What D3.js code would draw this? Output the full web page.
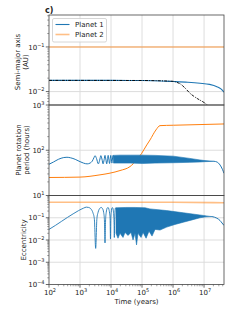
<!DOCTYPE html>
<html><head><meta charset="utf-8">
<script src="https://cdn.jsdelivr.net/npm/d3@7"></script>
<style>body{margin:0;background:#fff}svg{display:block}text{font-family:"DejaVu Sans",sans-serif;fill:#222}</style>
</head><body>
<svg id="c" width="249" height="320"></svg>
<script>
// ---------- data ----------
const xTickExps = [2, 3, 4, 5, 6, 7];
const aTickExps = [-1, -2];
const rotTickExps = [3, 2, 1];
const eccTickExps = [-1, -2, -3, -4];
const seriesNames = ["Planet 1", "Planet 2"];

// semi-major axis (AU)
const aP1Time = [1e2, 1e4, 1e5, 1e6, 3e6, 7.4e6, 1.5e7, 2.6e7, 3.5e7, 4.4e7];
const aP1Val  = [0.0178, 0.0178, 0.0177, 0.0168, 0.0162, 0.0154, 0.0145, 0.0129, 0.0115, 0.0097];
const aP2Time = [1e2, 4.4e7];
const aP2Val  = [0.1, 0.1];
const aFitTime = [1e2, 1e5, 1e6, 1.3e6, 1.7e6, 2.5e6, 3.5e6, 6e6, 1.07e7, 1.4e7];
const aFitVal  = [0.0178, 0.0177, 0.0170, 0.0162, 0.0149, 0.0118, 0.0092, 0.0070, 0.0055, 0.0047];

// rotation period (hours)
const rotP1Time = [100, 140, 200, 300, 380, 500, 700, 1000, 1300, 1700, 2100, 2500, 2800, 3050, 3400, 3900, 4300, 4700, 5100, 5550, 6000, 6400, 6800, 7250, 7700, 8100, 8500, 8950, 9400, 9800, 10200, 10650, 11100, 11600];
const rotP1Val  = [49, 55, 63, 69, 70, 68, 63, 56, 52, 50, 52, 58, 68, 76, 66, 50, 60, 76, 64, 50, 62, 77, 64, 50, 62, 77, 64, 51, 62, 77, 65, 52, 64, 77];
const rotBandHiTime = [11600, 19500, 41000, 105000, 263000, 1.02e6, 3.5e6, 7.4e6, 1.07e7, 1.55e7, 2.1e7];
const rotBandHi     = [77, 78, 78, 78, 77, 74, 66, 61, 59, 58, 57];
const rotBandLoTime = [12000, 19500, 41000, 105000, 263000, 1.02e6, 3.5e6, 7.4e6, 1.07e7, 1.55e7, 2.1e7];
const rotBandLo     = [52, 52, 52, 51, 52, 53, 54, 55, 56, 56.5, 57];
const rotTailTime = [2.1e7, 2.6e7, 3.3e7, 3.9e7, 4.4e7];
const rotTailVal  = [57, 55, 47, 38, 31];
const rotP2Time = [100, 1000, 4400, 9300, 19500, 41000, 67000, 98000, 142000, 181000, 281000, 380000, 1.02e6, 4.4e7];
const rotP2Val  = [25, 25.5, 28.6, 31.2, 35.6, 43.6, 61, 86, 131, 169, 281, 350, 357, 381];

// eccentricity
const eccP1Time = [100, 160, 250, 400, 600, 900, 1300, 1600, 1900, 2300, 2600, 2900, 3200, 3500, 3850, 4300, 4800, 5300, 5800, 6100, 6400, 6700, 7000, 7500, 8000, 8500, 9000, 9350, 9600, 9850, 10200, 10800, 11300, 11800, 12300, 12550, 12800, 13050, 13400, 14000, 14500];
const eccP1Val  = [0.030, 0.045, 0.068, 0.105, 0.15, 0.21, 0.27, 0.30, 0.29, 0.24, 0.17, 0.09, 0.0042, 0.09, 0.18, 0.26, 0.29, 0.26, 0.17, 0.09, 0.0074, 0.09, 0.17, 0.27, 0.29, 0.25, 0.16, 0.09, 0.011, 0.09, 0.18, 0.28, 0.28, 0.22, 0.12, 0.06, 0.013, 0.07, 0.18, 0.28, 0.26];
const eccBandHiTime = [14500, 30000, 60000, 126000, 180000, 627000, 2.15e6, 9.5e6, 1.55e7, 1.81e7];
const eccBandHi     = [0.28, 0.29, 0.29, 0.28, 0.25, 0.21, 0.167, 0.127, 0.115, 0.113];
const eccBandLoTime = [14500, 16800, 19500, 24400, 28300, 35300, 44200, 51300, 59400, 66500, 74300, 92900, 108000, 135000, 168000, 210000, 263000, 381000, 627000, 1.16e6, 2.15e6, 4.1e6, 7.4e6, 1.16e7, 1.81e7];
const eccBandLo     = [0.02, 0.012, 0.02, 0.013, 0.022, 0.016, 0.022, 0.010, 0.02, 0.006, 0.02, 0.013, 0.022, 0.012, 0.025, 0.015, 0.03, 0.028, 0.038, 0.05, 0.063, 0.08, 0.10, 0.11, 0.113];
const eccTailTime = [1.81e7, 2.57e7, 3.28e7, 3.8e7, 4.4e7];
const eccTailVal  = [0.113, 0.096, 0.075, 0.058, 0.045];
const eccP2Time = [100, 1e6, 4.4e7];
const eccP2Val  = [0.5, 0.495, 0.47];

// ---------- drawing ----------
const svg = d3.select("#c");
const L = 49, R = 224;
const panels = [
  {top: 15, bot: 105, dom: [0.005, 0.52], ticks: aTickExps, name: "a"},
  {top: 105, bot: 195.5, dom: [10, 1000], ticks: rotTickExps, name: "rot"},
  {top: 195.5, bot: 284.5, dom: [1e-4, 1], ticks: eccTickExps, name: "ecc"}
];
const x = d3.scaleLog().domain([100, 4.4e7]).range([L, R]);
panels.forEach(p => { p.y = d3.scaleLog().domain(p.dom).range([p.bot, p.top]); });
const BLUE = "#1f77b4", ORANGE = "#ff7f0e", GRID = "#d9d9d9", SPINE = "#444";

const defs = svg.append("defs");
panels.forEach((p, i) => {
  defs.append("clipPath").attr("id", "clip" + i).append("rect")
    .attr("x", L).attr("y", p.top).attr("width", R - L).attr("height", p.bot - p.top);
});

function sup(sel, base, exp) {
  sel.text(base);
  sel.append("tspan").attr("dy", -3).attr("font-size", 5)
    .text(exp < 0 ? "\u2212" + Math.abs(exp) : String(exp));
}

// grids
panels.forEach((p, i) => {
  const g = svg.append("g");
  xTickExps.forEach(e => {
    const xx = x(Math.pow(10, e));
    if (xx > L + 0.5) g.append("line").attr("x1", xx).attr("x2", xx).attr("y1", p.top).attr("y2", p.bot)
      .attr("stroke", GRID).attr("stroke-width", 0.9);
  });
  p.ticks.forEach(e => {
    const yy = p.y(Math.pow(10, e));
    if (yy > p.top + 0.5 && yy < p.bot - 0.5)
      g.append("line").attr("x1", L).attr("x2", R).attr("y1", yy).attr("y2", yy)
        .attr("stroke", GRID).attr("stroke-width", 0.9);
  });
});

const zip = (t, v) => t.map((d, i) => [d, v[i]]);
function linePath(p, curve) {
  return d3.line().x(d => x(d[0])).y(d => p.y(d[1])).curve(curve || d3.curveMonotoneX);
}
function drawLine(i, data, color, w, opts) {
  const p = panels[i];
  const s = svg.append("path").attr("clip-path", "url(#clip" + i + ")")
    .attr("d", linePath(p, opts && opts.curve)(data))
    .attr("fill", "none").attr("stroke", color).attr("stroke-width", w);
  if (opts && opts.dash) s.attr("stroke-dasharray", opts.dash);
  if (opts && opts.opacity) s.attr("stroke-opacity", opts.opacity);
  return s;
}
function drawBand(i, hiT, hi, loT, lo, color) {
  const p = panels[i];
  const pts = zip(hiT, hi).concat(zip(loT, lo).reverse());
  svg.append("path").attr("clip-path", "url(#clip" + i + ")")
    .attr("d", d3.line().x(d => x(d[0])).y(d => p.y(d[1]))(pts) + "Z")
    .attr("fill", color).attr("stroke", color).attr("stroke-width", 0.6);
}

// panel 1
drawLine(0, zip(aP2Time, aP2Val), ORANGE, 1.6, {opacity: 0.5});
drawLine(0, zip(aP1Time, aP1Val), BLUE, 1.1);
drawLine(0, zip(aFitTime, aFitVal), "#000", 0.9, {dash: "3,1.2,1,1.2"});

// panel 2
drawLine(1, zip(rotP2Time, rotP2Val), ORANGE, 1.0);
drawLine(1, zip(rotP1Time, rotP1Val), BLUE, 1.0);
drawBand(1, rotBandHiTime, rotBandHi, rotBandLoTime, rotBandLo, BLUE);
drawLine(1, zip(rotTailTime, rotTailVal), BLUE, 1.0);

// panel 3
drawLine(2, zip(eccP2Time, eccP2Val), ORANGE, 1.6, {opacity: 0.5});
drawLine(2, zip(eccP1Time, eccP1Val), BLUE, 0.9);
drawBand(2, eccBandHiTime, eccBandHi, eccBandLoTime, eccBandLo, BLUE);
drawLine(2, zip(eccTailTime, eccTailVal), BLUE, 1.0);

// spines, ticks, labels
panels.forEach((p, i) => {
  svg.append("rect").attr("x", L).attr("y", p.top).attr("width", R - L).attr("height", p.bot - p.top)
    .attr("fill", "none").attr("stroke", SPINE).attr("stroke-width", 0.8);
  // y minor ticks
  const lo = Math.floor(Math.log10(p.dom[0])), hi = Math.ceil(Math.log10(p.dom[1]));
  for (let e = lo; e < hi; e++) for (let m = 2; m < 10; m++) {
    const v = m * Math.pow(10, e);
    if (v <= p.dom[0] || v >= p.dom[1]) continue;
    const yy = p.y(v);
    svg.append("line").attr("x1", L - 1.8).attr("x2", L).attr("y1", yy).attr("y2", yy)
      .attr("stroke", SPINE).attr("stroke-width", 0.5);
  }
  p.ticks.forEach(e => {
    const yy = p.y(Math.pow(10, e));
    svg.append("line").attr("x1", L - 3.2).attr("x2", L).attr("y1", yy).attr("y2", yy)
      .attr("stroke", SPINE).attr("stroke-width", 0.8);
    const t = svg.append("text").attr("x", L - 4.5).attr("y", yy + 2.6)
      .attr("text-anchor", "end").attr("font-size", 7);
    sup(t, "10", e);
  });
});

// x axis (bottom)
const pb = panels[2];
for (let e = 2; e < 8; e++) for (let m = 2; m < 10; m++) {
  const v = m * Math.pow(10, e);
  if (v >= 4.4e7) continue;
  svg.append("line").attr("x1", x(v)).attr("x2", x(v)).attr("y1", pb.bot).attr("y2", pb.bot + 1.8)
    .attr("stroke", SPINE).attr("stroke-width", 0.5);
}
xTickExps.forEach(e => {
  const xx = x(Math.pow(10, e));
  svg.append("line").attr("x1", xx).attr("x2", xx).attr("y1", pb.bot).attr("y2", pb.bot + 3.2)
    .attr("stroke", SPINE).attr("stroke-width", 0.8);
  const t = svg.append("text").attr("x", xx + 1).attr("y", pb.bot + 10.5)
    .attr("text-anchor", "middle").attr("font-size", 7);
  sup(t, "10", e);
});

svg.append("text").attr("x", (L + R) / 2).attr("y", 304).attr("text-anchor", "middle")
  .attr("font-size", 7).text("Time (years)");

function ylabel(lines, cx, cy) {
  lines.forEach((s, k) => {
    svg.append("text").attr("transform", `translate(${cx + k * 8},${cy}) rotate(-90)`)
      .attr("text-anchor", "middle").attr("font-size", 7).text(s);
  });
}
ylabel(["Semi-major axis", "(AU)"], 20, 62);
ylabel(["Planet rotation", "period (hours)"], 21, 150);
ylabel(["Eccentricity"], 26, 240);

svg.append("text").attr("x", 45).attr("y", 13).attr("font-size", 8).attr("font-weight", "bold").text("c)");

// legend
const lg = svg.append("g");
lg.append("rect").attr("x", 52.5).attr("y", 18.5).attr("width", 54).attr("height", 23.5).attr("rx", 1.5)
  .attr("fill", "#fff").attr("fill-opacity", 0.8).attr("stroke", "#ccc").attr("stroke-width", 0.8);
[[BLUE, 1.1, 1], [ORANGE, 1.6, 0.5]].forEach((c, k) => {
  const yy = 24.5 + k * 10;
  lg.append("line").attr("x1", 55.5).attr("x2", 69.5).attr("y1", yy).attr("y2", yy)
    .attr("stroke", c[0]).attr("stroke-width", c[1]).attr("stroke-opacity", c[2]);
  lg.append("text").attr("x", 75).attr("y", yy + 2.5).attr("font-size", 7).text(seriesNames[k]);
});
</script>
</body></html>
